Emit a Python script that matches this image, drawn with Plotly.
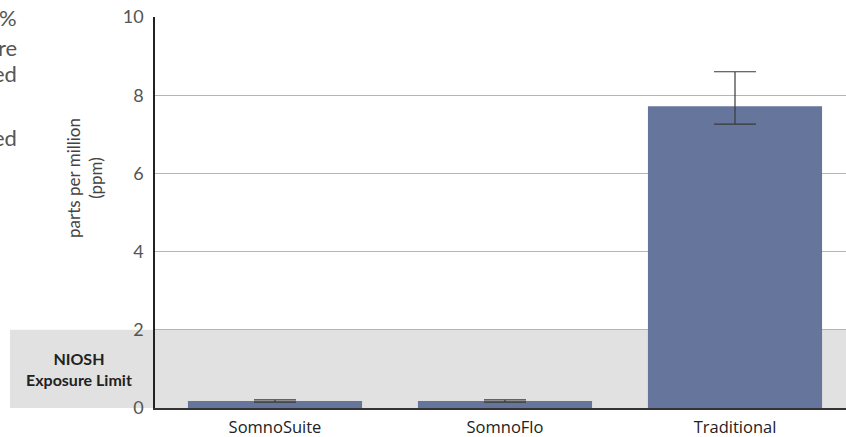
import plotly.graph_objects as go

categories = ["SomnoSuite", "SomnoFlo", "Traditional"]
values = [0.18, 0.18, 7.72]
err_plus = [0.03, 0.03, 0.88]
err_minus = [0.03, 0.03, 0.46]
y_ticks = [0, 2, 4, 6, 8, 10]
niosh_limit = 2
side_text = [("%", 17), ("re", 47), ("ed", 73), ("ed", 137)]

W, H = 846, 437
L, R, T, B = 155, 0, 17, 29
pw, ph = W - L - R, H - T - B

# category spacing in pixels (first category centre at x=275)
cat_px = 230
first_centre = 275
x_range = [(L - first_centre) / cat_px, (W - R - first_centre) / cat_px]


def px_x(page_x):
    return (page_x - L) / pw


def px_y(page_y):
    return (H - B - page_y) / ph


fig = go.Figure()
fig.add_trace(go.Bar(
    x=categories, y=values, width=0.757,
    marker=dict(color="#66759b", line=dict(width=0)),
    error_y=dict(type="data", array=err_plus, arrayminus=err_minus,
                 color="#3a3a3a", thickness=1.2, width=21),
))

# NIOSH band
fig.add_shape(type="rect", xref="paper", yref="paper",
              x0=px_x(10), x1=1, y0=0, y1=niosh_limit / 10,
              fillcolor="#e1e1e1", line=dict(width=0), layer="below")

fig.add_annotation(xref="paper", yref="paper", x=px_x(79), y=px_y(369),
                   xanchor="center", yanchor="middle",
                   text="<b>NIOSH<br>Exposure Limit</b>",
                   showarrow=False, font=dict(family="Lato", size=16, color="#222"),
                   align="center")

fig.add_annotation(xref="paper", yref="paper", x=px_x(84), y=px_y(178),
                   xanchor="center", yanchor="middle",
                   text="parts per million<br>(ppm)",
                   textangle=-90, showarrow=False,
                   font=dict(family="Lato", size=17, color="#444"), align="center")

for txt, ypx in side_text:
    fig.add_annotation(xref="paper", yref="paper", x=px_x(18), y=px_y(ypx),
                       text=txt, xanchor="right", yanchor="middle", borderpad=0,
                       showarrow=False, font=dict(family="Lato", size=22, color="#555"))

fig.update_layout(
    width=W, height=H, margin=dict(l=L, r=R, t=T, b=B, autoexpand=False),
    plot_bgcolor="white", paper_bgcolor="white", showlegend=False,
    xaxis=dict(range=x_range, automargin=False, showline=True, linecolor="#333",
               linewidth=1.5, showgrid=False,
               ticks="outside", ticklen=3, tickcolor="rgba(0,0,0,0)",
               tickfont=dict(family="Open Sans", size=16.5, color="#222")),
    yaxis=dict(range=[0, 10], tickvals=y_ticks, automargin=False,
               ticklabeloverflow="allow", showline=True, linecolor="#222",
               linewidth=1.5, showgrid=True, gridcolor="#b5b5b5", gridwidth=1,
               zeroline=False, ticks="outside", ticklen=6,
               tickcolor="rgba(0,0,0,0)",
               tickfont=dict(family="Lato", size=18, color="#555")),
)

fig.write_html("out.html", config={"displayModeBar": False},
               post_script="document.body.style.margin='0px';")
